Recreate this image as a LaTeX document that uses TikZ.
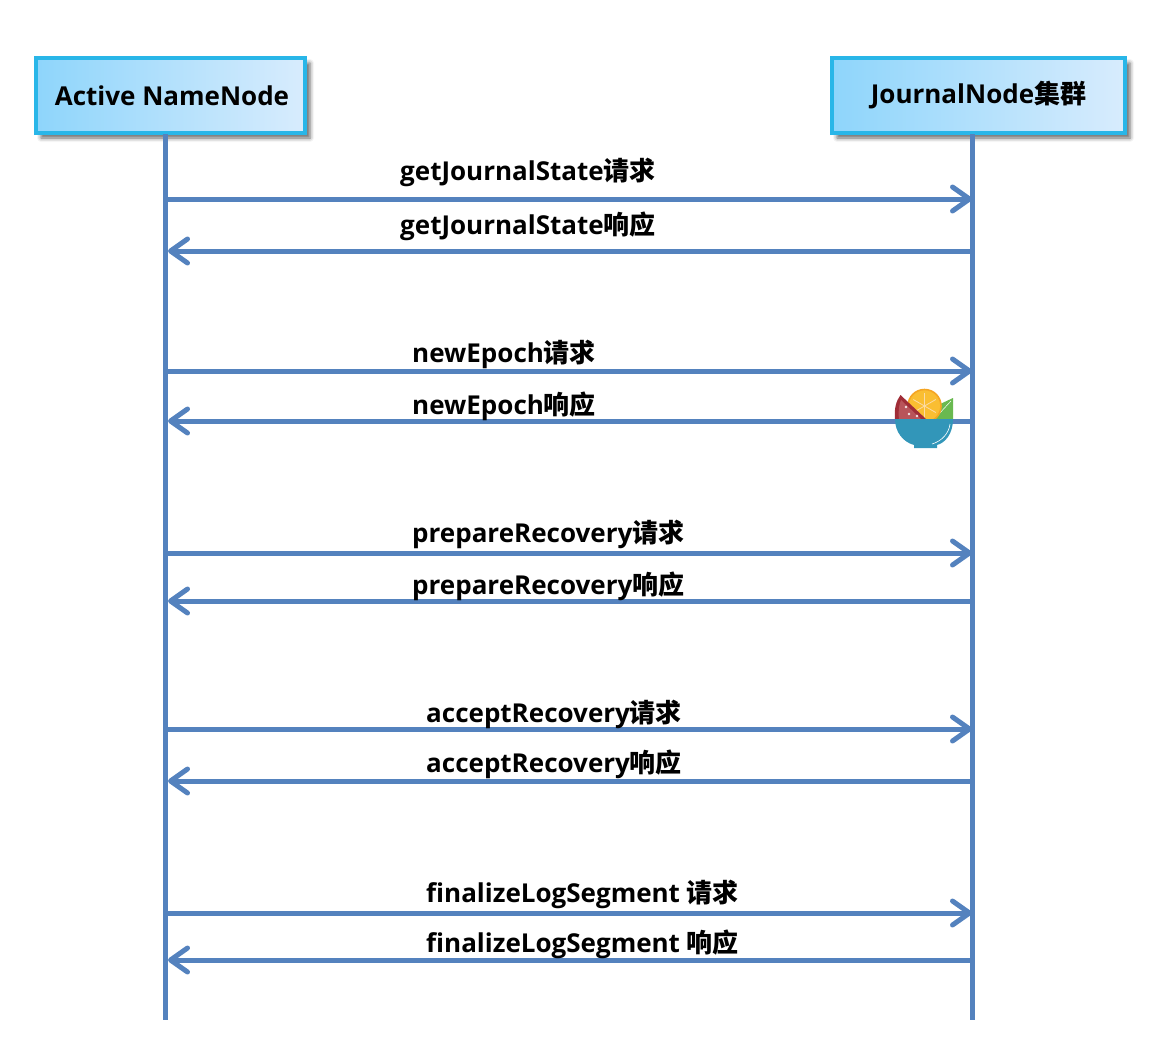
\documentclass[tikz,border=0pt]{standalone}
\usepackage{fontspec}
\setmainfont{Open Sans}
\newfontfamily\cjk{Noto Sans CJK SC}
\usetikzlibrary{positioning}
\usetikzlibrary{arrows.meta}
\usetikzlibrary{shadows.blur}
\definecolor{boxline}{RGB}{41,182,232}
\definecolor{boxleft}{RGB}{142,213,251}
\definecolor{boxright}{RGB}{216,236,253}
\definecolor{lifeblue}{RGB}{84,130,190}
\definecolor{bowlblue}{RGB}{50,150,185}
\definecolor{melon}{RGB}{184,84,90}
\definecolor{melonrim}{RGB}{160,45,55}
\definecolor{orangefill}{RGB}{250,190,50}
\definecolor{orangerim}{RGB}{245,165,35}
\definecolor{leaf}{RGB}{105,185,80}
\tikzset{
  party/.style={draw=boxline, line width=3.4pt, left color=boxleft, right color=boxright,
    minimum height=75pt, font=\fontsize{26}{30}\selectfont\bfseries,
    blur shadow={shadow xshift=5pt, shadow yshift=-5pt, shadow blur radius=4pt, shadow opacity=60}},
  lifeline/.style={lifeblue, line width=5.2pt},
  message/.style={lifeblue, line width=5pt, -{Straight Barb[round,length=17pt,width=24pt,line width=5pt]}},
  msglabel/.style={anchor=west, inner sep=0pt, font=\fontsize{26}{30}\selectfont\bfseries}
}
\begin{document}
\begin{tikzpicture}[x=1pt,y=-1pt]
\useasboundingbox (0,0) rectangle (1166,1052);

%---------------------------------------
% Parties and lifelines
%---------------------------------------
\node[party, minimum width=269pt] (active) at (170.5,95.5) {\hspace*{3pt}Active NameNode};
\node[party, minimum width=293pt] (journal) at (978.5,95.5) {JournalNode{\cjk\bfseries 集群}};

\coordinate (activeTop) at (165.5,134);
\coordinate (activeEnd) at (165.5,1020);
\coordinate (journalTop) at (972.5,134);
\coordinate (journalEnd) at (972.5,1020);

\draw[lifeline] (activeTop) -- (activeEnd);
\draw[lifeline] (journalTop) -- (journalEnd);

%---------------------------------------
% Request and response pairs
%---------------------------------------
\foreach \name/\txt/\xlab/\yreq/\yres/\ylabreq/\ylabres in {
    state/getJournalState/400/199/251/172/226,
    epoch/newEpoch/412/371/421/354/406,
    prepare/prepareRecovery/412/553/601/534/586,
    accept/acceptRecovery/426/729/781/714/764,
    final/finalizeLogSegment\ /426/913/960/894/944}
{
  \coordinate (\name ReqA) at (165,\yreq);
  \coordinate (\name ReqJ) at (972,\yreq);
  \coordinate (\name ResJ) at (972,\yres);
  \coordinate (\name ResA) at (168,\yres);
  \draw[message] (\name ReqA) -- (\name ReqJ);
  \draw[message] (\name ResJ) -- (\name ResA);
  \node[msglabel] (\name ReqLabel) at (\xlab,\ylabreq) {\txt{\cjk\bfseries 请求}};
  \node[msglabel] (\name ResLabel) at (\xlab,\ylabres) {\txt{\cjk\bfseries 响应}};
}

%---------------------------------------
% Fruit bowl
%---------------------------------------
% leaf
\fill[leaf] (953,398) -- (953,420) -- (934,420) -- (938,405) -- cycle;
\draw[white, line width=0.5pt] (937,416) -- (951,401);
% orange
\begin{scope}
  \clip (900,385) rectangle (945,419);
  \fill[orangefill, draw=orangerim, line width=1.6pt] (924.5,406) circle (16.5pt);
  \foreach \ang in {30,90,150,210,270,330}
    \draw[orangerim!40!white, line width=0.8pt] (924.5,406) -- +(\ang:13pt);
\end{scope}
% melon slice
\fill[melonrim] (900.5,395) -- (926,419) -- (895,419) .. controls (894,409) and (896,401) .. cycle;
\fill[melon] (901,400) -- (921,419) -- (899,419) .. controls (898,411) and (899,405) .. cycle;
\foreach \sx/\sy in {906/407, 909/414, 917/416}
  \fill[white!85!melon] (\sx,\sy) circle (1.3pt);
% bowl
\fill[bowlblue] (895,419) -- (953,419) .. controls (953,434) and (945,443) .. (937,445)
  -- (937,448) -- (914,448) -- (914,445) .. controls (903,442) and (895,432) .. cycle;
\draw[white, line width=0.6pt] (950,424) .. controls (949,433) and (942,441) .. (932,444);

\end{tikzpicture}
\end{document}
